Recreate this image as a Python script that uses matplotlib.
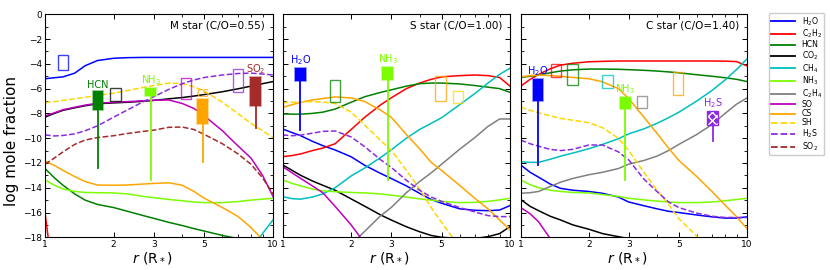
import numpy as np
import matplotlib
matplotlib.use("Agg")
import matplotlib.pyplot as plt
from matplotlib.patches import Rectangle
from matplotlib.lines import Line2D
from matplotlib.ticker import FixedLocator, NullFormatter
from matplotlib.colors import to_rgba

# ---------------- data ----------------
species = ['H2O', 'C2H2', 'HCN', 'CO2', 'CH4', 'NH3', 'C2H4', 'SO', 'CS', 'SH', 'H2S', 'SO2']
labels = ['H$_2$O', 'C$_2$H$_2$', 'HCN', 'CO$_2$', 'CH$_4$', 'NH$_3$', 'C$_2$H$_4$',
          'SO', 'CS', 'SH', 'H$_2$S', 'SO$_2$']
colors = ['blue', 'red', 'green', 'black', 'c', 'lawngreen', 'gray', 'm', 'orange',
          'gold', 'blueviolet', 'brown']
dashed = ['SH', 'H2S', 'SO2']

r = [1, 1.1, 1.2, 1.35, 1.5, 1.7, 2, 2.3, 2.7, 3, 3.5, 4, 4.5, 5, 6, 7, 8, 9, 10]

# M star (C/O=0.55)
m_H2O = [-5.2, -5.12, -5.05, -4.75, -4.15, -3.73, -3.55, -3.5, -3.48, -3.48, -3.48, -3.48, -3.48, -3.48, -3.48, -3.48, -3.48, -3.48, -3.48]
m_C2H2 = [-16.0, -22, -25, -25, -25, -25, -25, -25, -25, -25, -25, -25, -25, -25, -25, -25, -25, -25, -25]
m_HCN = [-12.45, -13.2, -13.8, -14.5, -15.0, -15.35, -15.6, -15.9, -16.25, -16.47, -16.8, -17.05, -17.3, -17.5, -17.85, -18.1, -18.4, -18.6, -18.8]
m_CO2 = [-8.3, -8.0, -7.75, -7.55, -7.38, -7.22, -7.15, -7.1, -7.02, -6.95, -6.82, -6.72, -6.6, -6.48, -6.25, -6.02, -5.8, -5.6, -5.43]
m_CH4 = [-30, -30, -30, -30, -30, -30, -30, -30, -30, -30, -30, -30, -30, -30, -30, -22, -18.95, -17.7, -16.6]
m_NH3 = [-13.37, -13.8, -14.1, -14.3, -14.38, -14.4, -14.42, -14.5, -14.7, -14.8, -14.95, -15.05, -15.15, -15.2, -15.2, -15.12, -15.0, -14.92, -14.85]
m_C2H4 = None
m_SO = [-8.2, -7.95, -7.7, -7.5, -7.33, -7.18, -7.1, -7.05, -6.98, -6.93, -6.92, -7.2, -7.6, -8.2, -9.4, -10.6, -11.6, -13.0, -14.7]
m_CS = [-11.85, -12.2, -12.6, -13.1, -13.5, -13.78, -13.8, -13.78, -13.7, -13.65, -13.6, -13.8, -14.3, -14.85, -15.6, -16.3, -17.2, -18.2, -19.0]
m_SH = [-7.13, -7.05, -6.95, -6.82, -6.7, -6.55, -6.37, -6.15, -5.9, -5.75, -5.55, -5.6, -5.85, -6.2, -7.1, -8.0, -8.8, -9.4, -9.95]
m_H2S = [-9.74, -9.82, -9.78, -9.65, -9.4, -9.0, -8.3, -7.72, -7.05, -6.65, -6.05, -5.6, -5.3, -5.1, -4.9, -4.78, -4.75, -4.82, -4.9]
m_SO2 = [-12.1, -11.6, -11.1, -10.5, -10.15, -9.95, -9.8, -9.62, -9.45, -9.35, -9.12, -9.1, -9.3, -9.7, -10.45, -11.25, -12.1, -13.2, -14.5]

# S star (C/O=1.00)
s_H2O = [-9.26, -9.55, -9.8, -10.25, -10.6, -10.95, -11.5, -12.2, -12.85, -13.25, -13.85, -14.45, -14.95, -15.25, -15.7, -15.82, -15.85, -15.8, -15.44]
s_C2H2 = [-11.49, -11.4, -11.27, -11.0, -10.8, -10.45, -9.3, -8.3, -7.3, -6.75, -6.0, -5.55, -5.25, -5.05, -4.95, -4.9, -4.95, -5.1, -5.8]
s_HCN = [-8.04, -8.06, -8.06, -8.0, -7.9, -7.65, -7.1, -6.65, -6.3, -6.1, -5.8, -5.6, -5.55, -5.55, -5.62, -5.75, -5.88, -6.0, -6.3]
s_CO2 = [-12.16, -12.6, -13.0, -13.45, -13.8, -14.2, -14.9, -15.5, -16.2, -16.6, -17.15, -17.55, -17.85, -18.0, -18.1, -18.1, -17.95, -17.7, -17.14]
s_CH4 = [-14.72, -14.88, -14.92, -14.75, -14.5, -14.0, -13.05, -12.4, -11.55, -10.95, -10.0, -9.3, -8.8, -8.35, -7.3, -6.4, -5.55, -4.85, -4.35]
s_NH3 = [-13.37, -13.65, -13.85, -14.1, -14.25, -14.32, -14.38, -14.42, -14.5, -14.6, -14.75, -14.9, -15.0, -15.1, -15.2, -15.18, -15.1, -14.98, -14.85]
s_C2H4 = [-30, -30, -30, -30, -30, -22, -18.6, -17.5, -16.25, -15.6, -14.4, -13.5, -12.8, -12.1, -10.9, -9.95, -9.05, -8.45, -8.45]
s_SO = [-12.3, -12.8, -13.25, -13.85, -14.4, -15.5, -17.0, -18.5, -21, -30, -30, -30, -30, -30, -30, -30, -30, -30, -30]
s_CS = [-7.51, -7.3, -7.1, -6.92, -6.8, -6.67, -6.75, -7.05, -7.75, -8.3, -9.7, -10.85, -11.95, -12.6, -13.8, -14.85, -15.7, -16.6, -17.4]
s_SH = [-7.13, -7.1, -7.07, -7.05, -7.08, -7.2, -7.9, -8.95, -10.2, -10.95, -12.6, -14.1, -15.6, -16.8, -18.8, -21, -30, -30, -30]
s_H2S = [-9.74, -9.8, -9.75, -9.6, -9.45, -9.42, -9.9, -10.7, -11.75, -12.35, -13.4, -14.2, -14.75, -15.1, -15.6, -15.95, -16.25, -16.33, -16.33]
s_SO2 = None

# C star (C/O=1.40)
c_H2O = [-12.16, -12.75, -13.15, -13.7, -14.05, -14.2, -14.3, -14.45, -14.75, -15.15, -15.45, -15.7, -15.9, -16.0, -16.2, -16.35, -16.45, -16.45, -16.35]
c_C2H2 = [-5.8, -5.25, -4.85, -4.4, -4.1, -3.95, -3.83, -3.8, -3.77, -3.77, -3.77, -3.77, -3.77, -3.77, -3.77, -3.77, -3.78, -3.82, -4.17]
c_HCN = [-5.1, -5.0, -4.9, -4.72, -4.58, -4.48, -4.42, -4.42, -4.44, -4.47, -4.52, -4.58, -4.65, -4.72, -4.88, -5.0, -5.12, -5.25, -5.43]
c_CO2 = [-14.95, -15.5, -15.85, -16.3, -16.6, -17.0, -17.35, -17.7, -17.95, -18.1, -18.3, -18.5, -18.7, -18.9, -19.2, -19.5, -19.8, -20.0, -20.2]
c_CH4 = [-11.9, -11.95, -11.95, -11.7, -11.45, -11.2, -10.85, -10.5, -10.05, -9.65, -9.25, -8.8, -8.35, -7.9, -7.0, -6.15, -5.3, -4.45, -3.6]
c_NH3 = [-13.37, -13.75, -14.0, -14.2, -14.3, -14.38, -14.42, -14.55, -14.7, -14.85, -14.98, -15.08, -15.15, -15.2, -15.2, -15.15, -15.05, -14.95, -14.85]
c_C2H4 = [-14.45, -14.4, -14.3, -13.9, -13.55, -13.25, -12.95, -12.75, -12.45, -12.1, -11.8, -11.45, -11.0, -10.5, -9.7, -8.9, -8.0, -7.25, -6.75]
c_SO = [-15.6, -16.1, -16.75, -18.1, -19.5, -30, -30, -30, -30, -30, -30, -30, -30, -30, -30, -30, -30, -30, -30]
c_CS = [-5.05, -4.95, -4.9, -4.95, -5.0, -5.1, -5.2, -5.45, -6.0, -6.8, -8.3, -9.6, -10.8, -11.8, -13.1, -14.3, -15.4, -16.35, -17.3]
c_SH = [-7.5, -7.75, -7.95, -8.2, -8.4, -8.55, -8.75, -9.15, -10.0, -11.0, -12.75, -14.2, -15.35, -16.5, -17.9, -19.5, -30, -30, -30]
c_H2S = [-10.15, -10.45, -10.65, -10.9, -11.0, -10.9, -10.55, -10.55, -11.1, -11.75, -13.3, -14.3, -15.15, -15.6, -16.05, -16.3, -16.4, -16.4, -16.4]
c_SO2 = None

# observations: species, r range, log-abundance range, lower end of line
m_obs_sp = ['H2O', 'HCN', 'CO2', 'NH3', 'SO', 'CS', 'H2S', 'SO2']
m_obs_rlo = [1.143, 1.62, 1.93, 2.75, 3.94, 4.66, 6.65, 7.93]
m_obs_rhi = [1.258, 1.80, 2.15, 3.07, 4.36, 5.2, 7.36, 8.86]
m_obs_lo = [-4.5, -7.73, -7.0, -6.57, -6.86, -8.85, -6.3, -7.4]
m_obs_hi = [-3.29, -6.19, -5.97, -5.92, -5.17, -6.86, -4.44, -5.04]
m_obs_min = [None, -12.4, None, -13.4, None, -11.9, None, -9.2]
m_obs_kind = ['open', 'filled', 'open', 'filled', 'open', 'filled', 'open', 'filled']
m_obs_lab = ['HCN', 'NH3', 'CS', 'SO2']

s_obs_sp = ['H2O', 'HCN', 'NH3', 'CS', 'SH']
s_obs_rlo = [1.136, 1.62, 2.74, 4.68, 5.6]
s_obs_rhi = [1.262, 1.79, 3.06, 5.21, 6.2]
s_obs_lo = [-5.36, -7.1, -5.3, -6.97, -7.18]
s_obs_hi = [-4.31, -5.28, -4.23, -4.98, -6.17]
s_obs_min = [-9.34, None, -13.4, None, None]
s_obs_kind = ['filled', 'open', 'filled', 'open', 'open']
s_obs_lab = ['H2O', 'NH3']

c_obs_sp = ['H2O', 'C2H2', 'HCN', 'CH4', 'NH3', 'C2H4', 'CS', 'H2S']
c_obs_rlo = [1.13, 1.357, 1.607, 2.294, 2.75, 3.27, 4.70, 6.68]
c_obs_rhi = [1.26, 1.503, 1.797, 2.565, 3.06, 3.63, 5.2, 7.44]
c_obs_lo = [-7.0, -5.08, -5.7, -5.92, -7.67, -7.59, -6.51, -8.9]
c_obs_hi = [-5.22, -4.04, -4.04, -4.9, -6.65, -6.6, -4.63, -7.8]
c_obs_min = [-12.16, None, None, None, -13.4, None, None, -10.2]
c_obs_kind = ['filled', 'open', 'open', 'open', 'filled', 'open', 'open', 'hatched']
c_obs_lab = ['H2O', 'NH3', 'H2S']

titles = ['M star (C/O=0.55)', 'S star (C/O=1.00)', 'C star (C/O=1.40)']
xticks = [1, 2, 3, 5, 10]
xminor = [4, 6, 7, 8, 9]
yticks = [0, -2, -4, -6, -8, -10, -12, -14, -16, -18]

models = [
    [m_H2O, m_C2H2, m_HCN, m_CO2, m_CH4, m_NH3, m_C2H4, m_SO, m_CS, m_SH, m_H2S, m_SO2],
    [s_H2O, s_C2H2, s_HCN, s_CO2, s_CH4, s_NH3, s_C2H4, s_SO, s_CS, s_SH, s_H2S, s_SO2],
    [c_H2O, c_C2H2, c_HCN, c_CO2, c_CH4, c_NH3, c_C2H4, c_SO, c_CS, c_SH, c_H2S, c_SO2],
]
obs = [
    (m_obs_sp, m_obs_rlo, m_obs_rhi, m_obs_lo, m_obs_hi, m_obs_min, m_obs_kind, m_obs_lab),
    (s_obs_sp, s_obs_rlo, s_obs_rhi, s_obs_lo, s_obs_hi, s_obs_min, s_obs_kind, s_obs_lab),
    (c_obs_sp, c_obs_rlo, c_obs_rhi, c_obs_lo, c_obs_hi, c_obs_min, c_obs_kind, c_obs_lab),
]

# ---------------- plot ----------------
plt.rcParams['font.family'] = ['DejaVu Sans']
fig = plt.figure(figsize=(8.3, 2.7), dpi=100)
lefts = [45 / 830, 282.7 / 830, 520.7 / 830]
widths = [228 / 830, 227.3 / 830, 226.3 / 830]
bottom = (270 - 237.3) / 270
height = (237.3 - 14.3) / 270

col = dict(zip(species, colors))
lab = dict(zip(species, labels))

for p in range(3):
    ax = fig.add_axes([lefts[p], bottom, widths[p], height])
    for sp, vals in zip(species, models[p]):
        if vals is None:
            continue
        ls = '--' if sp in dashed else '-'
        ax.plot(r, vals, color=col[sp], lw=1.1, ls=ls, zorder=2)

    sp_l, rlo, rhi, ylo, yhi, ymin, kind, labsp = obs[p]
    for i, sp in enumerate(sp_l):
        c = col[sp]
        rc = np.sqrt(rlo[i] * rhi[i])
        if ymin[i] is not None:
            ax.plot([rc, rc], [ylo[i], ymin[i]], color=c, lw=1.3, zorder=4)
        w = rhi[i] - rlo[i]
        h = yhi[i] - ylo[i]
        if kind[i] == 'filled':
            ax.add_patch(Rectangle((rlo[i], ylo[i]), w, h, facecolor=c,
                                   edgecolor=to_rgba(c, 0.45), lw=1.3, zorder=5))
        elif kind[i] == 'open':
            ax.add_patch(Rectangle((rlo[i], ylo[i]), w, h, facecolor='none',
                                   edgecolor=to_rgba(c, 0.75), lw=1.0, zorder=5))
        else:
            ax.add_patch(Rectangle((rlo[i], ylo[i]), w, h, facecolor=c,
                                   edgecolor='white', hatch='xxxx', lw=0, zorder=5))
            ax.add_patch(Rectangle((rlo[i], ylo[i]), w, h, facecolor='none',
                                   edgecolor=c, lw=1.0, zorder=6))
        if sp in labsp:
            ax.annotate(lab[sp], (rc, yhi[i]), xytext=(0, 0.5), textcoords='offset points',
                        ha='center', va='bottom', color=c, fontsize=7, zorder=7)

    ax.set_xscale('log')
    ax.set_xlim(1, 10)
    ax.set_ylim(-18, 0)
    ax.xaxis.set_major_locator(FixedLocator(xticks))
    ax.xaxis.set_minor_locator(FixedLocator(xminor))
    ax.xaxis.set_minor_formatter(NullFormatter())
    ax.set_xticklabels([str(t) for t in xticks])
    ax.set_yticks(yticks)
    ax.yaxis.set_minor_locator(FixedLocator(np.arange(-17, 0, 2)))
    ax.tick_params(which='both', direction='in', top=True, right=True, labelsize=6.5, pad=2)
    ax.tick_params(which='major', length=3.5, width=0.7)
    ax.tick_params(which='minor', length=2, width=0.6)
    if p == 0:
        ax.set_yticklabels(['0' if t == 0 else '\u2212%d' % (-t) for t in yticks])
        ax.set_ylabel('log mole fraction', fontsize=11)
        ax.yaxis.set_label_coords(-0.115, 0.43)
    else:
        ax.set_yticklabels([])
    ax.set_xlabel('$r$ (R$_*$)', fontsize=10)
    ax.xaxis.set_label_coords(0.47, -0.057)
    ax.text(0.965, 0.95, titles[p], transform=ax.transAxes, ha='right', va='center', fontsize=7.5)
    for s in ax.spines.values():
        s.set_linewidth(0.8)

handles = [Line2D([], [], color=col[sp], lw=1.3, ls='--' if sp in dashed else '-') for sp in species]
fig.legend(handles, labels, loc='upper left', bbox_to_anchor=(769 / 830, 1 - 12.7 / 270),
           borderaxespad=0, fontsize=5.6, handlelength=3.1, labelspacing=0.02, borderpad=0.3,
           handletextpad=0.8, frameon=True, edgecolor='#cccccc', framealpha=1)

fig.savefig('out.png', dpi=100)
